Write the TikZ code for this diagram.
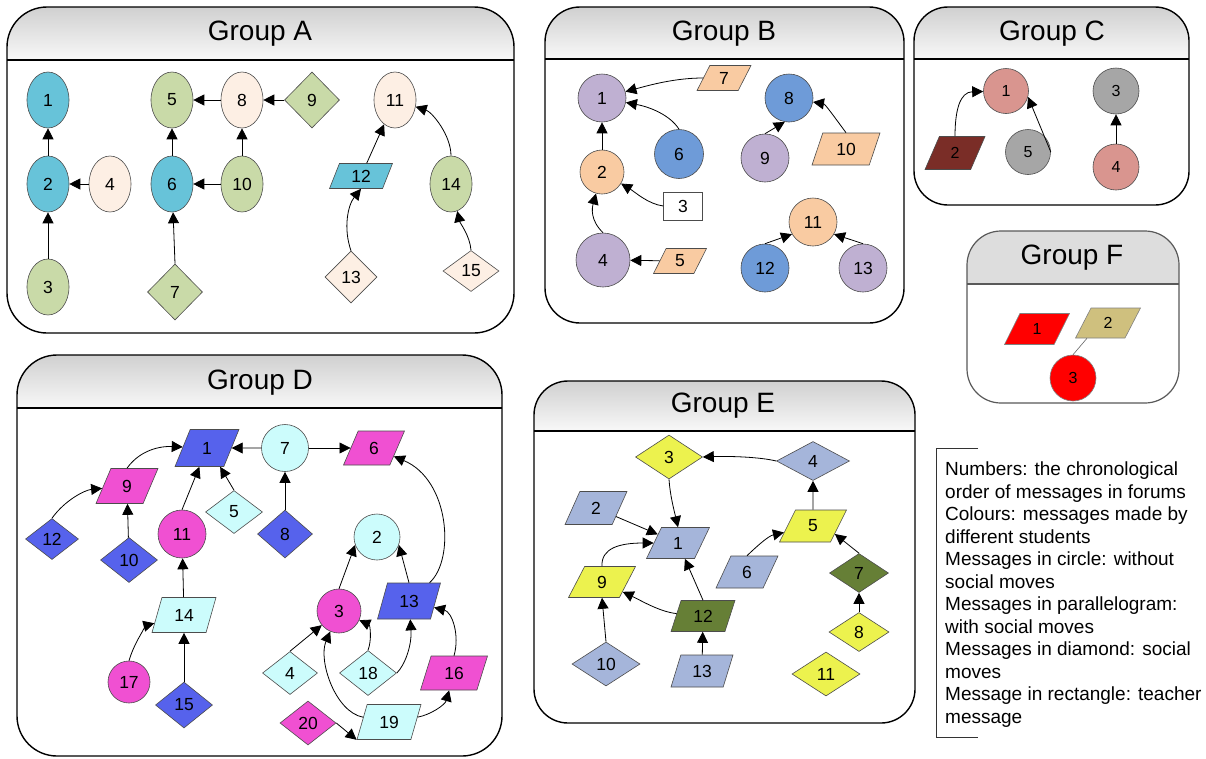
\documentclass[tikz,border=0pt]{standalone}
\usepackage{fontspec}
\setmainfont{Liberation Sans}
\usetikzlibrary{shapes.geometric,arrows.meta}

\definecolor{aBlue}{HTML}{67C3D9}
\definecolor{aGreen}{HTML}{C9DAA8}
\definecolor{aPeach}{HTML}{FDEFE4}
\definecolor{bPurple}{HTML}{BFB0D2}
\definecolor{bPeach}{HTML}{F9CBA2}
\definecolor{bBlue}{HTML}{6E9BD8}
\definecolor{cPink}{HTML}{D9958F}
\definecolor{cGray}{HTML}{A6A6A6}
\definecolor{cBrown}{HTML}{7A2D27}
\definecolor{dBlue}{HTML}{5662EC}
\definecolor{dMag}{HTML}{F050D2}
\definecolor{dCyan}{HTML}{CCFCFC}
\definecolor{eSlate}{HTML}{A5B5DA}
\definecolor{eYellow}{HTML}{ECF24E}
\definecolor{eOlive}{HTML}{667F36}
\definecolor{fRed}{HTML}{FF0000}
\definecolor{fTan}{HTML}{CFC07E}
\definecolor{hdTop}{HTML}{D0D0D0}
\definecolor{hdBot}{HTML}{F8F8F8}
\definecolor{fHead}{HTML}{DDDDDD}

\tikzset{
  nd/.style={draw=black!70, line width=0.6pt, inner sep=0pt, font=\fontsize{17.5}{17.5}\selectfont},
  ell/.style={nd, ellipse, minimum width=42pt, minimum height=56pt, fill=#1},
  circ/.style 2 args={nd, circle, minimum size=#1, fill=#2},
  dia/.style n args={3}{nd, diamond, minimum width=#1, minimum height=#2, fill=#3},
  para/.style n args={3}{nd, trapezium, trapezium left angle=70, trapezium right angle=110,
    trapezium stretches=true, minimum width=#1, minimum height=#2, fill=#3},
  tbox/.style={nd, rectangle, minimum width=39pt, minimum height=28pt, fill=white},
  small/.style={font=\fontsize{16}{16}\selectfont},
  arr/.style={-{Triangle[length=11pt,width=11pt]}, line width=0.8pt},
  grpline/.style={line width=1.4pt},
  gtitle/.style={font=\fontsize{28}{28}\selectfont, inner sep=0pt},
  legend/.style={font=\fontsize{19}{22.5}\selectfont, align=left, inner sep=0pt},
}

% rounded group frame with a shaded header band
\newcommand{\grpframe}[6]{%
  \begin{scope}
    \clip[rounded corners=#6] (#1,#2) rectangle (#3,#4);
    \shade[top color=hdTop, bottom color=hdBot] (#1,#2) rectangle (#3,#5);
  \end{scope}
  \draw[grpline] (#1,#5) -- (#3,#5);
  \draw[grpline, rounded corners=#6] (#1,#2) rectangle (#3,#4);
}

\begin{document}
\begin{tikzpicture}[x=1pt,y=-1pt]
\useasboundingbox (0,0) rectangle (1206,758);
\fill[white] (0,0) rectangle (1206,758);

% ---------------- Group A ----------------
\grpframe{7}{7}{514}{333}{60}{40pt}
\node[gtitle] (tA) at (260,34) {Group A};
\node[ell=aBlue]  (a1)  at (48,100)  {1};
\node[ell=aBlue]  (a2)  at (48,184)  {2};
\node[ell=aGreen] (a3)  at (48,287)  {3};
\node[ell=aPeach] (a4)  at (110,184) {4};
\node[ell=aGreen] (a5)  at (172,100) {5};
\node[ell=aBlue]  (a6)  at (172,184) {6};
\node[dia={55pt}{56pt}{aGreen}] (a7) at (175,292) {7};
\node[ell=aPeach] (a8)  at (242,100) {8};
\node[dia={55pt}{56pt}{aGreen}] (a9) at (312,100) {9};
\node[ell=aGreen] (a10) at (242,184) {10};
\node[ell=aPeach] (a11) at (395,100) {11};
\node[para={63pt}{25pt}{aBlue}] (a12) at (361,176) {12};
\node[dia={52pt}{52pt}{aPeach}] (a13) at (351,277) {13};
\node[ell=aGreen] (a14) at (451,184) {14};
\node[dia={56pt}{41pt}{aPeach}] (a15) at (471,271) {15};

\draw[arr] (a2) -- (a1);
\draw[arr] (a3) -- (a2);
\draw[arr] (a4) -- (a2);
\draw[arr] (a6) -- (a5);
\draw[arr] (a8) -- (a5);
\draw[arr] (a9) -- (a8);
\draw[arr] (a10) -- (a8);
\draw[arr] (a10) -- (a6);
\draw[arr] (a7.north) -- (a6);
\draw[arr] (a12) -- (a11);
\draw[arr] (a13.north) .. controls (343,228) and (348,205) .. (a12.south);
\draw[arr] (a14.north) .. controls (451,135) and (432,112) .. (a11);
\draw[arr] (a15.north) .. controls (470,236) and (460,223) .. (a14);

% ---------------- Group B ----------------
\grpframe{545}{7}{904}{323}{59}{35pt}
\node[gtitle] (tB) at (724,34) {Group B};
\node[circ={48pt}{bPurple}] (b1)  at (602,98)  {1};
\node[circ={44pt}{bPeach}]  (b2)  at (602,172) {2};
\node[tbox]                  (b3)  at (683,206) {3};
\node[circ={54pt}{bPurple}] (b4)  at (603,260) {4};
\node[para={53pt}{25pt}{bPeach}] (b5) at (680,261) {5};
\node[circ={49pt}{bBlue}]   (b6)  at (679,154) {6};
\node[para={54pt}{25pt}{bPeach}] (b7) at (724,78) {7};
\node[circ={48pt}{bBlue}]   (b8)  at (789,98)  {8};
\node[circ={48pt}{bPurple}] (b9)  at (765,158) {9};
\node[para={68pt}{32pt}{bPeach}] (b10) at (846,149) {10};
\node[circ={48pt}{bPeach}]  (b11) at (813,222) {11};
\node[circ={48pt}{bBlue}]   (b12) at (765,268) {12};
\node[circ={48pt}{bPurple}] (b13) at (863,268) {13};

\draw[arr] (b7) .. controls (675,78) and (650,85) .. (b1);
\draw[arr] (b6.north) .. controls (670,115) and (650,107) .. (b1);
\draw[arr] (b2) -- (b1);
\draw[arr] (b3.west) .. controls (648,204) and (635,192) .. (b2);
\draw[arr] (b4.north) .. controls (590,220) and (592,208) .. (b2);
\draw[arr] (b5) -- (b4);
\draw[arr] (b9.north) -- (b8.-100);
\draw[arr] (b10.north) .. controls (833,115) and (825,104) .. (b8);
\draw[arr] (b12.north) -- (b11.-150);
\draw[arr] (b13.north) -- (b11.-30);

% ---------------- Group C ----------------
\grpframe{914}{7}{1189}{205}{59}{34pt}
\node[gtitle] (tC) at (1052,34) {Group C};
\node[circ={45pt}{cPink}, small]  (c1) at (1006,91)  {1};
\node[para={60pt}{33pt}{cBrown}, small] (c2) at (955,153) {2};
\node[circ={46pt}{cGray}, small]  (c3) at (1116,91)  {3};
\node[circ={46pt}{cPink}, small]  (c4) at (1116,167) {4};
\node[circ={45pt}{cGray}, small]  (c5) at (1028,152) {5};

\draw[arr] (c2.north) .. controls (955,110) and (960,92) .. (c1);
\draw[arr] (c5.east) -- (c1.-15);
\draw[arr] (c4) -- (c3);

% ---------------- Group F ----------------
\begin{scope}
  \clip[rounded corners=34pt] (967,231) rectangle (1179,403);
  \fill[fHead] (967,231) rectangle (1179,284);
\end{scope}
\draw[black!65, line width=1.2pt] (967,284) -- (1179,284);
\draw[black!65, line width=1.2pt, rounded corners=34pt] (967,231) rectangle (1179,403);
\node[gtitle] (tF) at (1072,258) {Group F};
\node[para={65pt}{31pt}{fRed}, small, draw=black!50] (f1) at (1037,329) {1};
\node[para={65pt}{30pt}{fTan}, small, draw=black!50] (f2) at (1108,323) {2};
\node[circ={46pt}{fRed}, small, draw=black!50]       (f3) at (1073,378) {3};
\draw[black!60, line width=0.6pt] (f2.-144) -- (f3.north);

% ---------------- Group D ----------------
\grpframe{17}{355}{502}{756}{408}{40pt}
\node[gtitle] (tD) at (260,383) {Group D};
\node[para={64pt}{37pt}{dBlue}] (d1)  at (207,448) {1};
\node[circ={46pt}{dCyan}]       (d2)  at (377,537) {2};
\node[circ={44pt}{dMag}]        (d3)  at (339,611) {3};
\node[dia={55pt}{43pt}{dCyan}]  (d4)  at (290,673) {4};
\node[dia={57pt}{43pt}{dCyan}]  (d5)  at (234,512) {5};
\node[para={61pt}{34pt}{dMag}]  (d6)  at (374,448) {6};
\node[circ={47pt}{dCyan}]       (d7)  at (285,448) {7};
\node[dia={55pt}{48pt}{dBlue}]  (d8)  at (285,534) {8};
\node[para={62pt}{35pt}{dMag}]  (d9)  at (127,486) {9};
\node[dia={57pt}{45pt}{dBlue}]  (d10) at (129,560) {10};
\node[circ={48pt}{dMag}]        (d11) at (182,534) {11};
\node[dia={53pt}{41pt}{dBlue}]  (d12) at (52,539)  {12};
\node[para={63pt}{36pt}{dBlue}] (d13) at (409,601) {13};
\node[para={64pt}{35pt}{dCyan}] (d14) at (184,615) {14};
\node[dia={57pt}{46pt}{dBlue}]  (d15) at (184,705) {15};
\node[para={67pt}{34pt}{dMag}]  (d16) at (454,673) {16};
\node[circ={42pt}{dMag}]        (d17) at (129,682) {17};
\node[dia={57pt}{45pt}{dCyan}]  (d18) at (368,673) {18};
\node[para={64pt}{35pt}{dCyan}] (d19) at (389,722) {19};
\node[dia={56pt}{44pt}{dMag}]   (d20) at (308,723) {20};

\draw[arr] (d9.north) .. controls (140,450) and (160,446) .. (d1);
\draw[arr] (d12.north) .. controls (65,500) and (85,490) .. (d9);
\draw[arr] (d10) -- (d9);
\draw[arr] (d11.north) -- (d1);
\draw[arr] (d5.north) -- (d1.-55);
\draw[arr] (d7) -- (d1);
\draw[arr] (d7) -- (d6);
\draw[arr] (d8) -- (d7);
\draw[arr] (d14) -- (d11);
\draw[arr] (d17.north) .. controls (135,640) and (148,625) .. (d14);
\draw[arr] (d15) -- (d14);
\draw[arr] (d3.north) -- (d2.-160);
\draw[arr] (d13.north) -- (d2.-20);
\draw[arr] (d13) .. controls (455,560) and (450,480) .. (d6);
\draw[arr] (d4.north) -- (d3);
\draw[arr] (d18.north) .. controls (372,640) and (370,625) .. (d3);
\draw[arr] (d18.east) .. controls (405,665) and (412,645) .. (d13);
\draw[arr] (d16.north) .. controls (460,635) and (452,612) .. (d13);
\draw[arr] (d19) .. controls (335,712) and (318,660) .. (d3);
\draw[arr] (d19) .. controls (430,715) and (445,705) .. (d16);
\draw[arr] (d20.east) -- (d19.bottom left corner);

% ---------------- Group E ----------------
\grpframe{534}{381}{915}{723}{431}{34pt}
\node[gtitle] (tE) at (723,406) {Group E};
\node[para={63pt}{31pt}{eSlate}]  (e1)  at (678,543) {1};
\node[para={62pt}{33pt}{eSlate}]  (e2)  at (596,508) {2};
\node[dia={67pt}{44pt}{eYellow}]  (e3)  at (669,457) {3};
\node[dia={73pt}{39pt}{eSlate}]   (e4)  at (813,461) {4};
\node[para={67pt}{32pt}{eYellow}] (e5)  at (813,526) {5};
\node[para={62pt}{32pt}{eSlate}]  (e6)  at (747,572) {6};
\node[dia={59pt}{39pt}{eOlive}]   (e7)  at (859,573) {7};
\node[dia={60pt}{39pt}{eYellow}]  (e8)  at (859,632) {8};
\node[para={67pt}{31pt}{eYellow}] (e9)  at (602,582) {9};
\node[dia={68pt}{44pt}{eSlate}]   (e10) at (606,664) {10};
\node[dia={68pt}{44pt}{eYellow}]  (e11) at (826,674) {11};
\node[para={64pt}{31pt}{eOlive}]  (e12) at (703,616) {12};
\node[para={62pt}{32pt}{eSlate}]  (e13) at (702,671) {13};

\draw[arr] (e4.west) .. controls (760,457) and (730,456) .. (e3.east);
\draw[arr] (e3.south) .. controls (670,495) and (674,510) .. (e1.north);
\draw[arr] (e2) -- (e1);
\draw[arr] (e9.north) .. controls (601,548) and (620,543) .. (e1);
\draw[arr] (e12.north) -- (e1);
\draw[arr] (e12) .. controls (660,612) and (640,600) .. (e9);
\draw[arr] (e13) -- (e12);
\draw[arr] (e10.north) -- (e9.south);
\draw[arr] (e5) -- (e4);
\draw[arr] (e6.north) .. controls (755,548) and (768,536) .. (e5);
\draw[arr] (e7.north) -- (e5.-20);
\draw[arr] (e8) -- (e7);

% ---------------- Legend ----------------
\coordinate (lgTop) at (978,448);
\coordinate (lgBot) at (978,737);
\draw[black!80, line width=0.8pt] (lgTop) -- (936,448) -- (936,737) -- (lgBot);
\node[legend, anchor=north west] (leg) at (945,462) {Numbers: the chronological\\
order of messages in forums\\
Colours: messages made by\\
different students\\
Messages in circle: without\\
social moves\\
Messages in parallelogram:\\
with social moves\\
Messages in diamond: social\\
moves\\
Message in rectangle: teacher\\
message};
\end{tikzpicture}
\end{document}
